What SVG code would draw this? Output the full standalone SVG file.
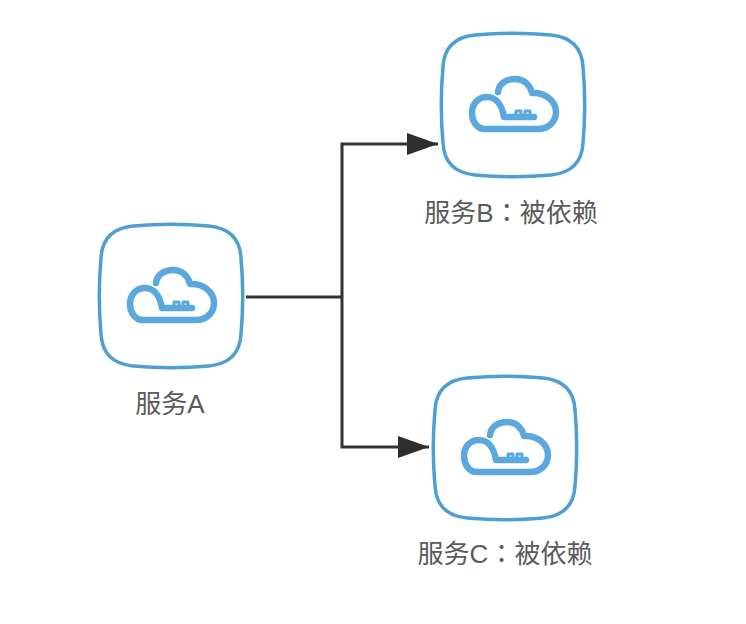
<svg xmlns="http://www.w3.org/2000/svg" width="746" height="624" viewBox="0 0 746 624">
  <style>
    .frame { fill: #fff; stroke: #509fd3; stroke-width: 3.5; }
    .cloud { fill: none; stroke: #5aa8de; stroke-width: 6.5; stroke-linecap: round; stroke-linejoin: round; }
    .teeth { fill: none; stroke: #5aa8de; stroke-width: 3; stroke-linecap: round; stroke-linejoin: round; }
    .label { font-family: "Liberation Sans", "Noto Sans CJK SC", sans-serif; font-size: 26px; fill: #5a5a5a; text-anchor: middle; }
    .colon { font-family: "Noto Sans CJK TC", sans-serif; }
    .wire { fill: none; stroke: #333; stroke-width: 3; }
  </style>
  <defs>
    <marker id="arrow" markerUnits="userSpaceOnUse" markerWidth="32" markerHeight="22" refX="31" refY="11" orient="auto">
      <path d="M0 0L31 11L0 22Z" fill="#2e2e2e"/>
    </marker>
    <!-- Service tile, drawn around its own centre -->
    <g id="tile">
      <path class="frame" d="M-38 -70C-16 -72 16 -72 38 -70C58 -68 69 -57 70 -38C72 -16 72 16 70 38C69 57 58 68 38 70C16 72 -16 72 -38 70C-58 68 -69 57 -70 38C-72 16 -72 -16 -70 -38C-69 -57 -58 -68 -38 -70Z"/>
      <path class="cloud" d="M-15 -13C-14 -22 -6 -26 2 -26C11 -26 17 -20 19 -12C32 -13 43 -4 43 7C43 17 35 24 25 24L-28 24C-37 24 -41 15 -41 8C-41 -2 -34 -8 -26 -8C-17 -8 -11 0 -9 12H21"/>
      <path class="teeth" d="M3 10V6H8V10M12 10V6H17V10"/>
    </g>
  </defs>
  <g id="connectors">
    <path class="wire" d="M246 297H342"/>
    <path class="wire" marker-end="url(#arrow)" d="M342 297V144H438"/>
    <path class="wire" marker-end="url(#arrow)" d="M342 297V447H429"/>
  </g>
  <g id="service-a">
    <use href="#tile" x="171" y="296"/>
    <text class="label" x="170" y="413">服务A</text>
  </g>
  <g id="service-b">
    <use href="#tile" x="513" y="105"/>
    <text class="label" x="511" y="222">服务B<tspan class="colon">：</tspan>被依赖</text>
  </g>
  <g id="service-c">
    <use href="#tile" x="505" y="448"/>
    <text class="label" x="505" y="563">服务C<tspan class="colon">：</tspan>被依赖</text>
  </g>
</svg>
